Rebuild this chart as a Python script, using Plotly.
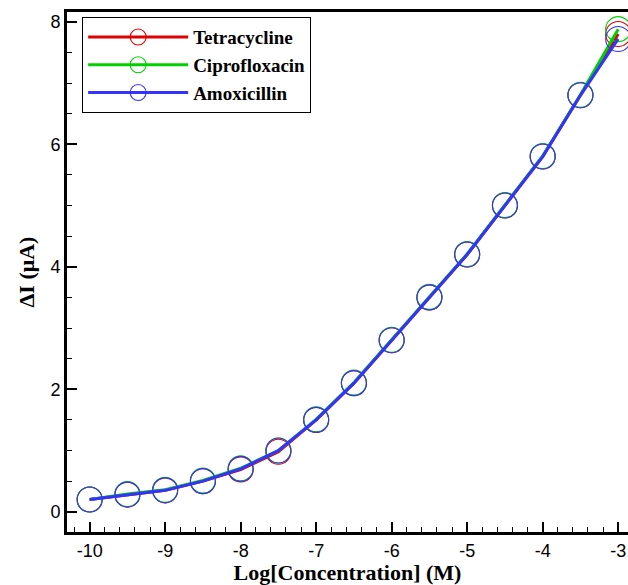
import plotly.graph_objects as go

log_conc = [-10, -9.5, -9, -8.5, -8, -7.5, -7, -6.5, -6, -5.5, -5, -4.5, -4, -3.5, -3]
tetracycline = [0.2, 0.28, 0.35, 0.5, 0.69, 0.98, 1.5, 2.1, 2.8, 3.5, 4.2, 5.0, 5.8, 6.8, 7.8]
ciprofloxacin = [0.2, 0.29, 0.36, 0.51, 0.71, 1.0, 1.51, 2.11, 2.81, 3.51, 4.21, 5.01, 5.81, 6.81, 7.88]
amoxicillin = [0.2, 0.28, 0.35, 0.5, 0.7, 1.0, 1.5, 2.1, 2.8, 3.5, 4.2, 5.0, 5.8, 6.8, 7.72]
x_ticks = [-10, -9, -8, -7, -6, -5, -4, -3]
x_ticklabels = ["-10", "-9", "-8", "-7", "-6", "-5", "-4", "-3"]

series = [
    ("Tetracycline", tetracycline, "#e00000"),
    ("Ciprofloxacin", ciprofloxacin, "#00d000"),
    ("Amoxicillin", amoxicillin, "#3333ff"),
]

fig = go.Figure()
for name, vals, col in series:
    fig.add_trace(go.Scatter(
        x=log_conc, y=vals, name=name, mode="lines+markers",
        line=dict(color=col, width=3),
        marker=dict(symbol="circle-open", size=25, color=col, line=dict(width=1.1, color=col)),
    ))

fig.update_layout(
    width=628, height=585,
    margin=dict(l=67, r=0, t=12, b=53),
    plot_bgcolor="white", paper_bgcolor="white",
    font=dict(family="Liberation Sans", size=18, color="black"),
    showlegend=True,
    legend=dict(
        x=0.027, y=0.99, xanchor="left", yanchor="top",
        bgcolor="white", bordercolor="black", borderwidth=1,
        font=dict(family="Liberation Serif", size=19, weight="bold"),
        itemwidth=100, tracegroupgap=0,
    ),
    xaxis=dict(
        range=[-10.3, -2.87], tickvals=x_ticks, ticktext=x_ticklabels,
        showgrid=False, zeroline=False,
        showline=True, linecolor="black", linewidth=3, mirror=True,
        ticks="inside", ticklen=10, tickwidth=2, tickcolor="black",
        minor=dict(ticks="inside", ticklen=5, tickwidth=1, dtick=0.2, tick0=-10, tickcolor="black"),
        title=dict(text="Log[Concentration] (M)", font=dict(family="Liberation Serif", size=22, weight="bold"), standoff=8),
        tickfont=dict(size=18),
    ),
    yaxis=dict(
        range=[-0.33, 8.16], tickvals=[0, 2, 4, 6, 8],
        showgrid=False, zeroline=False,
        showline=True, linecolor="black", linewidth=3, mirror=False,
        ticks="inside", ticklen=10, tickwidth=2, tickcolor="black",
        minor=dict(ticks="inside", ticklen=5, tickwidth=1, dtick=0.5, tick0=0, tickcolor="black"),
        title=dict(text="ΔI (μA)", font=dict(family="Liberation Serif", size=22, weight="bold"), standoff=10),
        tickfont=dict(size=18),
    ),
)

fig.write_html("out.html")
